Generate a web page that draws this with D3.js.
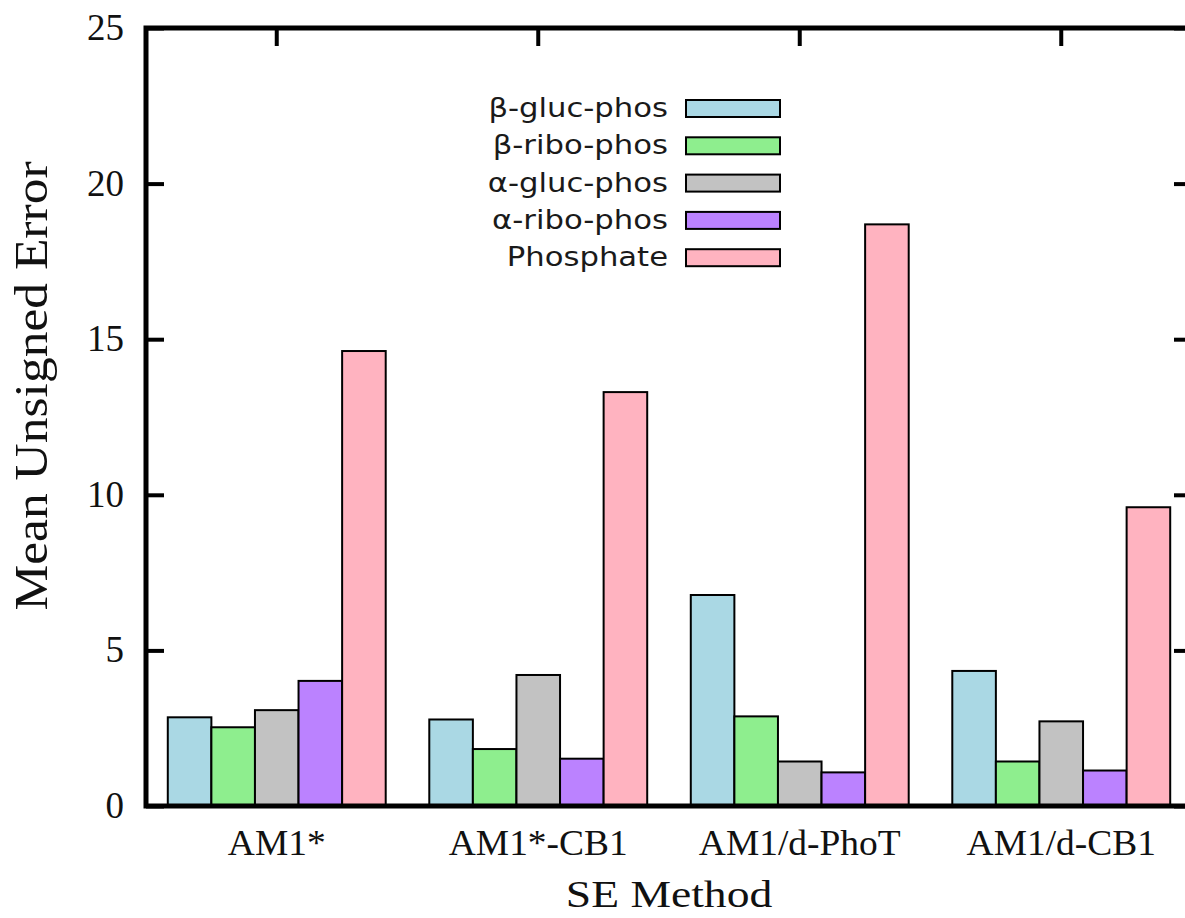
<!DOCTYPE html>
<html>
<head>
<meta charset="utf-8">
<script src="https://cdn.jsdelivr.net/npm/d3@7"></script>
<style>
  body { margin:0; background:#fff; }
  .serif { font-family: "Liberation Serif", "DejaVu Serif", serif; fill:#111; }
  .sans { font-family: "DejaVu Sans", sans-serif; fill:#1a1a1a; }
</style>
</head>
<body>
<div class="chart"></div>
<script>
const methods = ['AM1*', 'AM1*-CB1', 'AM1/d-PhoT', 'AM1/d-CB1'];
const series = ['β-gluc-phos', 'β-ribo-phos', 'α-gluc-phos', 'α-ribo-phos', 'Phosphate'];
const betaGluc  = [2.85, 2.78, 6.78, 4.34];
const betaRibo  = [2.53, 1.83, 2.88, 1.43];
const alphaGluc = [3.08, 4.21, 1.43, 2.72];
const alphaRibo = [4.02, 1.52, 1.08, 1.14];
const phosphate = [14.62, 13.3, 18.69, 9.6];
const yTicks = [0, 5, 10, 15, 20, 25];
const colors = ['#aad8e4', '#8eee8e', '#c2c2c2', '#bb82ff', '#ffb3c0'];

const values = [betaGluc, betaRibo, alphaGluc, alphaRibo, phosphate];
const data = methods.map((m, i) => ({method: m, vals: series.map((s, j) => ({key: s, value: values[j][i]}))}));

const margin = {top:28, left:146, bottom:112, right:-7};
const width = 1185 - margin.left - margin.right;
const height = 918 - margin.top - margin.bottom;

const svg = d3.select('.chart').append('svg')
    .attr('width', 1185)
    .attr('height', 918)
  .append('g')
    .attr('transform', `translate(${margin.left},${margin.top})`);

const x0 = d3.scaleBand()
    .domain(methods)
    .range([0, width])
    .paddingInner(1/6)
    .paddingOuter(1/12);

const x1 = d3.scaleBand()
    .domain(series)
    .range([0, x0.bandwidth()]);

const y = d3.scaleLinear()
    .domain([0, 25])
    .range([height, 0]);

const color = d3.scaleOrdinal().domain(series).range(colors);

// bars
const groups = svg.selectAll('.group')
    .data(data)
    .enter().append('g')
    .attr('transform', d => `translate(${x0(d.method)},0)`);

groups.selectAll('rect')
    .data(d => d.vals)
    .enter().append('rect')
    .attr('x', d => x1(d.key))
    .attr('y', d => y(d.value))
    .attr('width', x1.bandwidth())
    .attr('height', d => height - y(d.value))
    .attr('fill', d => color(d.key))
    .attr('stroke', '#000')
    .attr('stroke-width', 2);

// axes (inward ticks, mirrored)
const tickLen = 18;
const yAxis = d3.axisLeft(y).tickValues(yTicks).tickSize(-tickLen).tickFormat('');
svg.append('g').call(yAxis).call(g => g.select('.domain').remove())
    .selectAll('line').attr('stroke-width', 4);
svg.append('g').attr('transform', `translate(${width},0)`)
    .call(d3.axisRight(y).tickValues(yTicks).tickSize(-tickLen).tickFormat(''))
    .call(g => g.select('.domain').remove())
    .selectAll('line').attr('stroke-width', 4);

const xTop = d3.axisTop(x0).tickSize(-tickLen).tickFormat('');
svg.append('g').call(xTop).call(g => g.select('.domain').remove())
    .selectAll('line').attr('stroke-width', 4);

// frame
svg.append('rect')
    .attr('x', 0).attr('y', 0)
    .attr('width', width).attr('height', height)
    .attr('fill', 'none')
    .attr('stroke', '#000')
    .attr('stroke-width', 5);

// y tick labels
svg.selectAll('.ylab')
    .data(yTicks)
    .enter().append('text')
    .attr('class', 'serif')
    .attr('text-anchor', 'end')
    .attr('font-size', 37)
    .attr('x', -22)
    .attr('y', d => y(d) + 12)
    .text(d => d);

// x tick labels
svg.selectAll('.xlab')
    .data(methods)
    .enter().append('text')
    .attr('class', 'serif')
    .attr('text-anchor', 'middle')
    .attr('font-size', 35)
    .attr('transform', d => `translate(${x0(d) + x0.bandwidth()/2},${height + 49}) scale(1.07,1)`)
    .text(d => d);

// axis titles
svg.append('text')
    .attr('class', 'serif')
    .attr('text-anchor', 'middle')
    .attr('font-size', 38)
    .attr('transform', `translate(${523},${height + 101}) scale(1.2,1)`)
    .text('SE Method');

svg.append('text')
    .attr('class', 'serif')
    .attr('text-anchor', 'middle')
    .attr('font-size', 46)
    .attr('transform', `translate(${-99},${358}) rotate(-90) scale(1.12,1)`)
    .text('Mean Unsigned Error');

// legend
const legend = svg.selectAll('.legend')
    .data(series)
    .enter().append('g')
    .attr('transform', (d, i) => `translate(${522},${72 + i * 37.3})`);

legend.append('text')
    .attr('class', 'sans')
    .attr('text-anchor', 'end')
    .attr('font-size', 26)
    .attr('transform', 'scale(1.18,1)')
    .attr('y', 17)
    .text(d => d);

legend.append('rect')
    .attr('x', 18)
    .attr('y', 0)
    .attr('width', 94)
    .attr('height', 17)
    .attr('fill', d => color(d))
    .attr('stroke', '#000')
    .attr('stroke-width', 2);
</script>
</body>
</html>
